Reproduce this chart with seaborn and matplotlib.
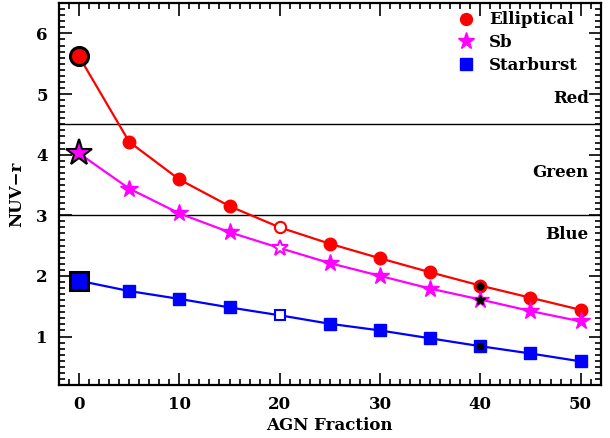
import matplotlib
matplotlib.use("Agg")
import matplotlib.pyplot as plt
import seaborn as sns
import pandas as pd
import numpy as np
from matplotlib.ticker import MultipleLocator

agn = [0, 5, 10, 15, 20, 25, 30, 35, 40, 45, 50]
elliptical = [5.62, 4.21, 3.59, 3.15, 2.80, 2.53, 2.29, 2.06, 1.84, 1.64, 1.44]
sb = [4.02, 3.44, 3.03, 2.72, 2.46, 2.21, 2.00, 1.79, 1.61, 1.42, 1.25]
starburst = [1.92, 1.75, 1.62, 1.48, 1.35, 1.21, 1.10, 0.97, 0.84, 0.72, 0.59]
templates = ["Elliptical", "Sb", "Starburst"]
colors = {"Elliptical": "#ff0000", "Sb": "#ff00ff", "Starburst": "#0000ff"}
markers = {"Elliptical": "o", "Sb": "*", "Starburst": "s"}
msize = {"Elliptical": 9, "Sb": 13, "Starburst": 8.5}
bigsize = {"Elliptical": 13, "Sb": 20, "Starburst": 13}
boundaries = [3.0, 4.5]
zone_labels = ["Red", "Green", "Blue"]
zone_y = [4.92, 3.70, 2.68]

df = pd.DataFrame({
    "AGN": agn * 3,
    "NUVr": elliptical + sb + starburst,
    "Template": sum([[t] * len(agn) for t in templates], []),
})

sns.set_style("ticks")
plt.rcParams["font.family"] = ["DejaVu Serif"]
plt.rcParams["font.weight"] = "bold"
for k in ["text.color", "axes.labelcolor", "xtick.color", "ytick.color", "axes.edgecolor"]:
    plt.rcParams[k] = "black"

fig = plt.figure(figsize=(6.1, 4.38), dpi=100)
ax = fig.add_axes([0.0967, 0.121, 0.888, 0.872])

for b in boundaries:
    ax.axhline(b, color="black", lw=1.0, zorder=1)

for t in templates:
    sub = df[df.Template == t].reset_index(drop=True)
    sns.lineplot(data=sub, x="AGN", y="NUVr", color=colors[t], lw=1.6,
                 ax=ax, zorder=2, legend=False)
    normal = sub[~sub.AGN.isin([0, 20])]
    ax.plot(normal.AGN, normal.NUVr, ls="none", marker=markers[t],
            ms=msize[t], mfc=colors[t], mec=colors[t], zorder=3)
    first = sub[sub.AGN == 0]
    ax.plot(first.AGN, first.NUVr, ls="none", marker=markers[t],
            ms=bigsize[t], mfc=colors[t], mec="black", mew=2.2 if t != "Sb" else 1.5, zorder=4)
    open_ = sub[sub.AGN == 20]
    ax.plot(open_.AGN, open_.NUVr, ls="none", marker=markers[t],
            ms=msize[t] * 0.9, mfc="white", mec=colors[t], mew=1.5, zorder=4)
    dot = sub[sub.AGN == 40]
    ax.plot(dot.AGN, dot.NUVr, ls="none", marker=markers[t],
            ms=msize[t] * 0.55, mfc="black", mec="black", zorder=5)

for lab, yv in zip(zone_labels, zone_y):
    ax.text(50.8, yv, lab, ha="right", va="center", fontsize=12, fontweight="bold")

handles = [plt.Line2D([], [], ls="none", marker=markers[t], ms=msize[t] * 0.95,
                      mfc=colors[t], mec=colors[t]) for t in templates]
ax.legend(handles, templates, loc="upper right", frameon=False,
          handletextpad=0.4, borderaxespad=0.1, labelspacing=0.35,
          bbox_to_anchor=(0.974, 1.0),
          prop={"weight": "bold", "size": 12})

ax.set_xlim(-2, 52)
ax.set_ylim(0.2, 6.5)
ax.xaxis.set_major_locator(MultipleLocator(10))
ax.xaxis.set_minor_locator(MultipleLocator(1))
ax.yaxis.set_major_locator(MultipleLocator(1))
ax.yaxis.set_minor_locator(MultipleLocator(0.1))
ax.tick_params(which="both", direction="in", top=True, right=True, width=1.2)
ax.tick_params(which="major", length=9, labelsize=12, pad=8)
ax.tick_params(which="minor", length=4.5)
for s in ax.spines.values():
    s.set_linewidth(1.6)
ax.set_xlabel("AGN Fraction", fontsize=12, fontweight="bold", labelpad=3)
ax.set_ylabel("NUV−r", fontsize=12, fontweight="bold", labelpad=8)
for lbl in ax.get_xticklabels() + ax.get_yticklabels():
    lbl.set_fontweight("bold")

fig.savefig("out.png", dpi=100)
